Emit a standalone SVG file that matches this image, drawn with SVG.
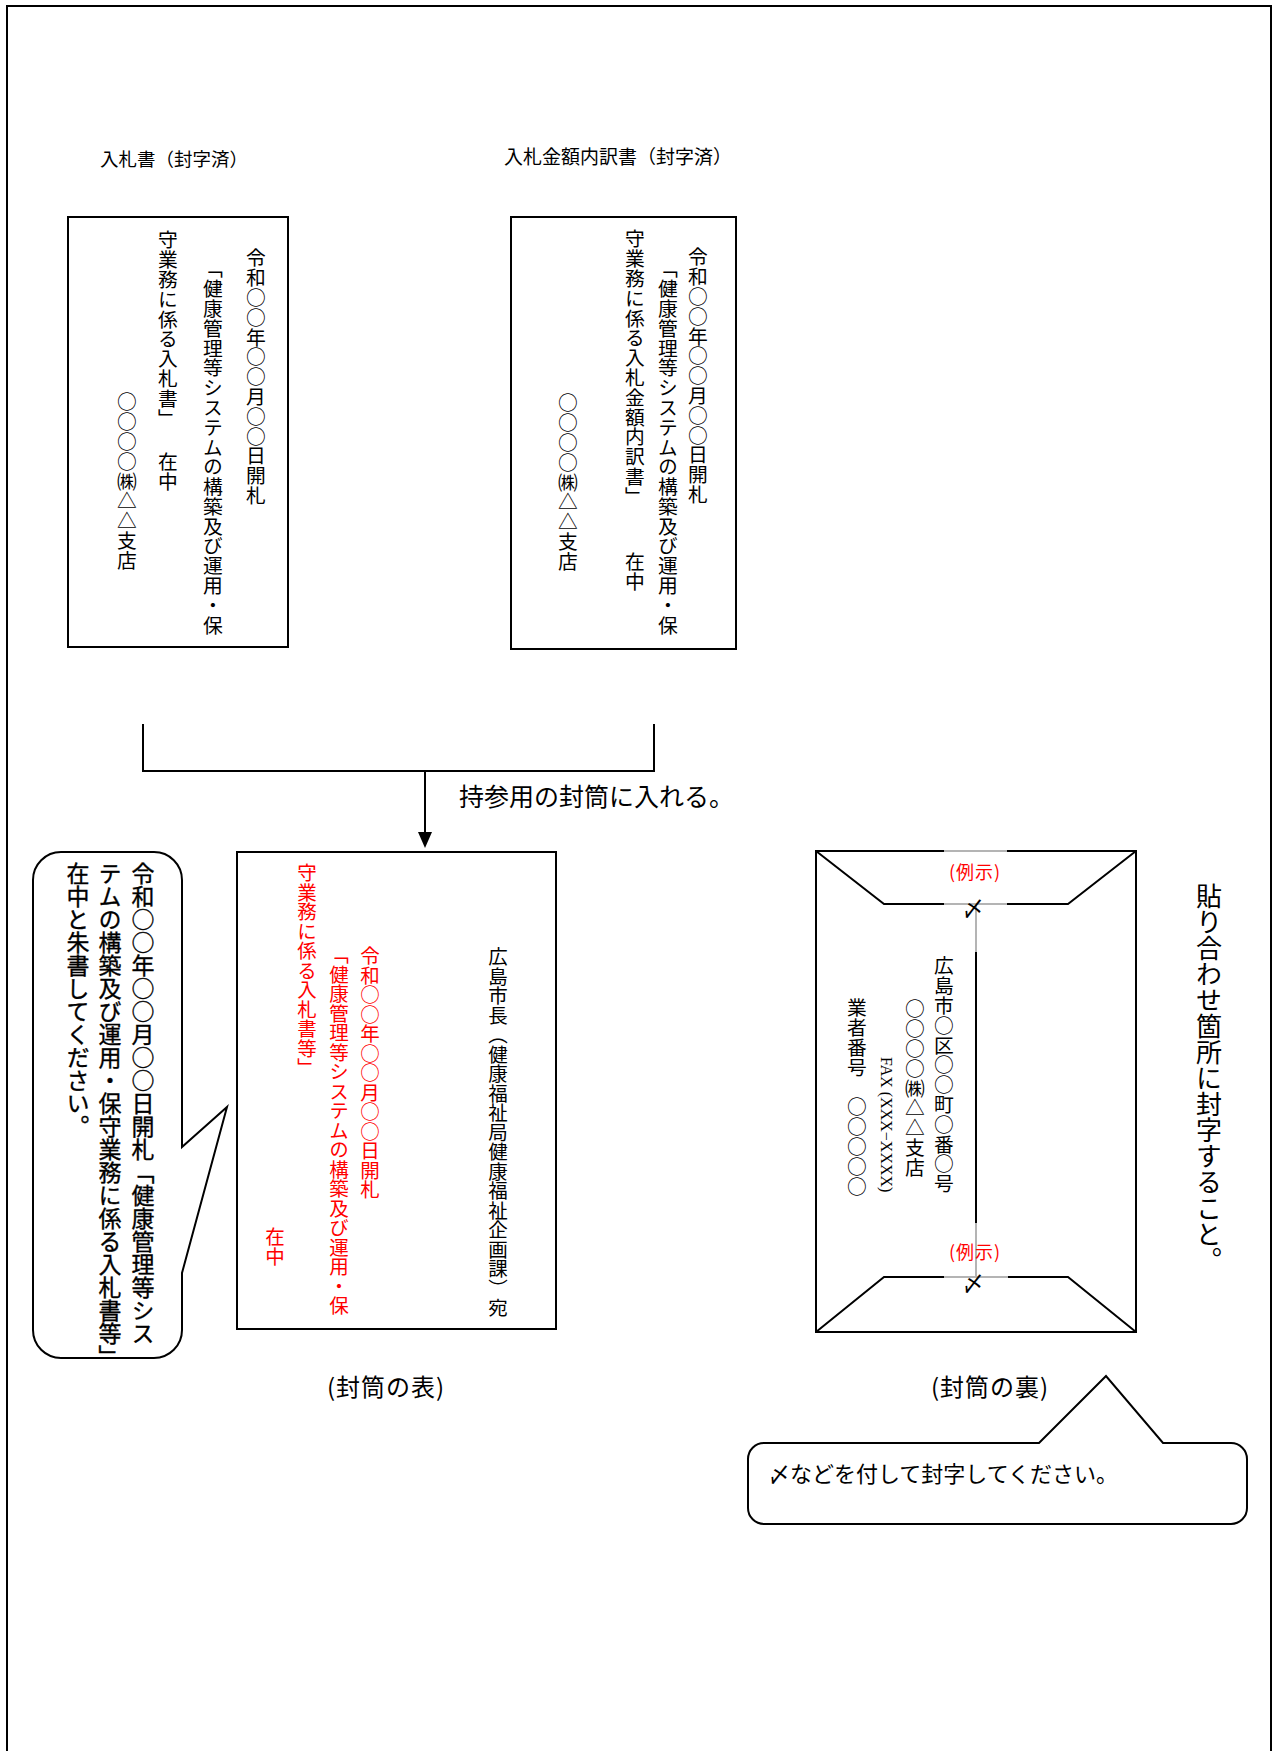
<svg xmlns="http://www.w3.org/2000/svg" width="1277" height="1751" viewBox="0 0 1277 1751">
<style>
.frame{fill:none;stroke:#000;stroke-width:2}
.box{fill:#fff;stroke:#000;stroke-width:2}
.ln{fill:none;stroke:#000;stroke-width:2}
.gr{fill:none;stroke:#b4b4b4;stroke-width:2}
.bub{fill:#fff;stroke:#000;stroke-width:2;stroke-linejoin:miter}
text{font-family:"Noto Sans CJK JP","Noto Sans CJK SC",sans-serif;fill:#000}
.v{writing-mode:vertical-rl}
.red{fill:#ff0000}
.s20{font-size:19.8px}
.s23{font-size:23px;stroke:#000;stroke-width:0.35px}
</style>
<defs>
<marker id="arr" viewBox="0 0 16 14" refX="8" refY="7" markerWidth="16" markerHeight="14" markerUnits="userSpaceOnUse" orient="auto">
<path d="M0,0 L16,7 L0,14 z" fill="#000"/>
</marker>
</defs>
<rect class="frame" x="7" y="6" width="1264" height="1760"/>

<g id="title-bid">
<text x="100" y="166" font-size="18.5">入札書（封字済）</text>
</g>
<g id="title-breakdown">
<text x="504" y="164" font-size="19">入札金額内訳書（封字済）</text>
</g>

<g id="bid-form">
<rect class="box" x="68" y="217" width="220" height="430"/>
<text class="v s20" x="256" y="248">令和○○年○○月○○日開札</text>
<text class="v s20" x="213" y="259">「健康管理等システムの構築及び運用・保</text>
<text class="v s20" x="168" y="230">守業務に係る入札書」</text>
<text class="v s20" x="168" y="452">在中</text>
<text class="v s20" x="127" y="392">○○○○㈱△△支店</text>
</g>

<g id="breakdown-form">
<rect class="box" x="511" y="217" width="225" height="432"/>
<text class="v s20" x="698" y="247">令和○○年○○月○○日開札</text>
<text class="v s20" x="668" y="259">「健康管理等システムの構築及び運用・保</text>
<text class="v s20" x="635" y="229">守業務に係る入札金額内訳書」</text>
<text class="v s20" x="635" y="552">在中</text>
<text class="v s20" x="568" y="393">○○○○㈱△△支店</text>
</g>

<g id="connectors">
<polyline class="ln" points="143,724 143,771 654,771 654,724"/>
<line class="ln" x1="425" y1="771" x2="425" y2="840" marker-end="url(#arr)"/>
</g>
<g id="instruction">
<text x="459" y="806" font-size="25">持参用の封筒に入れる。</text>
</g>

<g id="envelope-front">
<rect class="box" x="237" y="852" width="319" height="477"/>
<text class="v" x="498" y="947" font-size="19.5">広島市長（健康福祉局健康福祉企画課）宛</text>
<text class="v red" x="370" y="946" font-size="19.5">令和○○年○○月○○日開札</text>
<text class="v red" x="339" y="945" font-size="19.5">「健康管理等システムの構築及び運用・保</text>
<text class="v red" x="307" y="863" font-size="19.5">守業務に係る入札書等」</text>
<text class="v red" x="275" y="1227" font-size="19.5">在中</text>
</g>
<g id="label-front">
<text x="386" y="1396" font-size="24" text-anchor="middle" letter-spacing="1">(封筒の表)</text>
</g>

<g id="callout-front">
<path class="bub" d="M61,852 H154 A28,28 0 0 1 182,880 V1147 L227,1107 L182,1273 V1330 A28,28 0 0 1 154,1358 H61 A28,28 0 0 1 33,1330 V880 A28,28 0 0 1 61,852 Z"/>
<text class="v s23" x="143" y="862">令和○○年○○月○○日開札「健康管理等シス</text>
<text class="v s23" x="110" y="862">テムの構築及び運用・保守業務に係る入札書等」</text>
<text class="v s23" x="78" y="862">在中と朱書してください。</text>
</g>

<g id="envelope-back">
<rect class="box" x="816" y="851" width="320" height="481"/>
<polyline class="ln" points="816,851 884,904 1068,904 1136,851"/>
<polyline class="ln" points="816,1332 884,1277 1068,1277 1136,1332"/>
<line class="gr" x1="944" y1="851" x2="1007" y2="851"/>
<line class="gr" x1="944" y1="904" x2="1007" y2="904"/>
<line class="gr" x1="944" y1="1277" x2="1008" y2="1277"/>
<line class="gr" x1="976" y1="904" x2="976" y2="1277"/>
<line class="ln" x1="976" y1="952" x2="976" y2="1223"/>
<text class="red" x="975" y="879" font-size="18" text-anchor="middle" letter-spacing="1">(例示)</text>
<text class="red" x="975" y="1259" font-size="18" text-anchor="middle" letter-spacing="1">(例示)</text>
<text x="973" y="916" font-size="22" text-anchor="middle">〆</text>
<text x="973" y="1291" font-size="22" text-anchor="middle">〆</text>
<text class="v s20" x="944" y="956">広島市○区○○町○番○号</text>
<text class="v s20" x="915" y="999">○○○○㈱△△支店</text>
<text class="v" x="886" y="1057" font-size="16" style="font-family:'Liberation Serif','Noto Sans CJK JP',serif">FAX (XXX−XXXX)</text>
<text class="v s20" x="857" y="998">業者番号　○○○○○</text>
</g>
<g id="note-seal">
<text class="v" x="1209" y="883" font-size="26">貼り合わせ箇所に封字すること。</text>
</g>
<g id="label-back">
<text x="990" y="1396" font-size="24" text-anchor="middle" letter-spacing="1">(封筒の裏)</text>
</g>

<g id="callout-back">
<path class="bub" d="M764,1443 H1039 L1106,1376 L1163,1443 H1231 A16,16 0 0 1 1247,1459 V1508 A16,16 0 0 1 1231,1524 H764 A16,16 0 0 1 748,1508 V1459 A16,16 0 0 1 764,1443 Z"/>
<text x="768" y="1482" font-size="22">〆などを付して封字してください。</text>
</g>
</svg>
